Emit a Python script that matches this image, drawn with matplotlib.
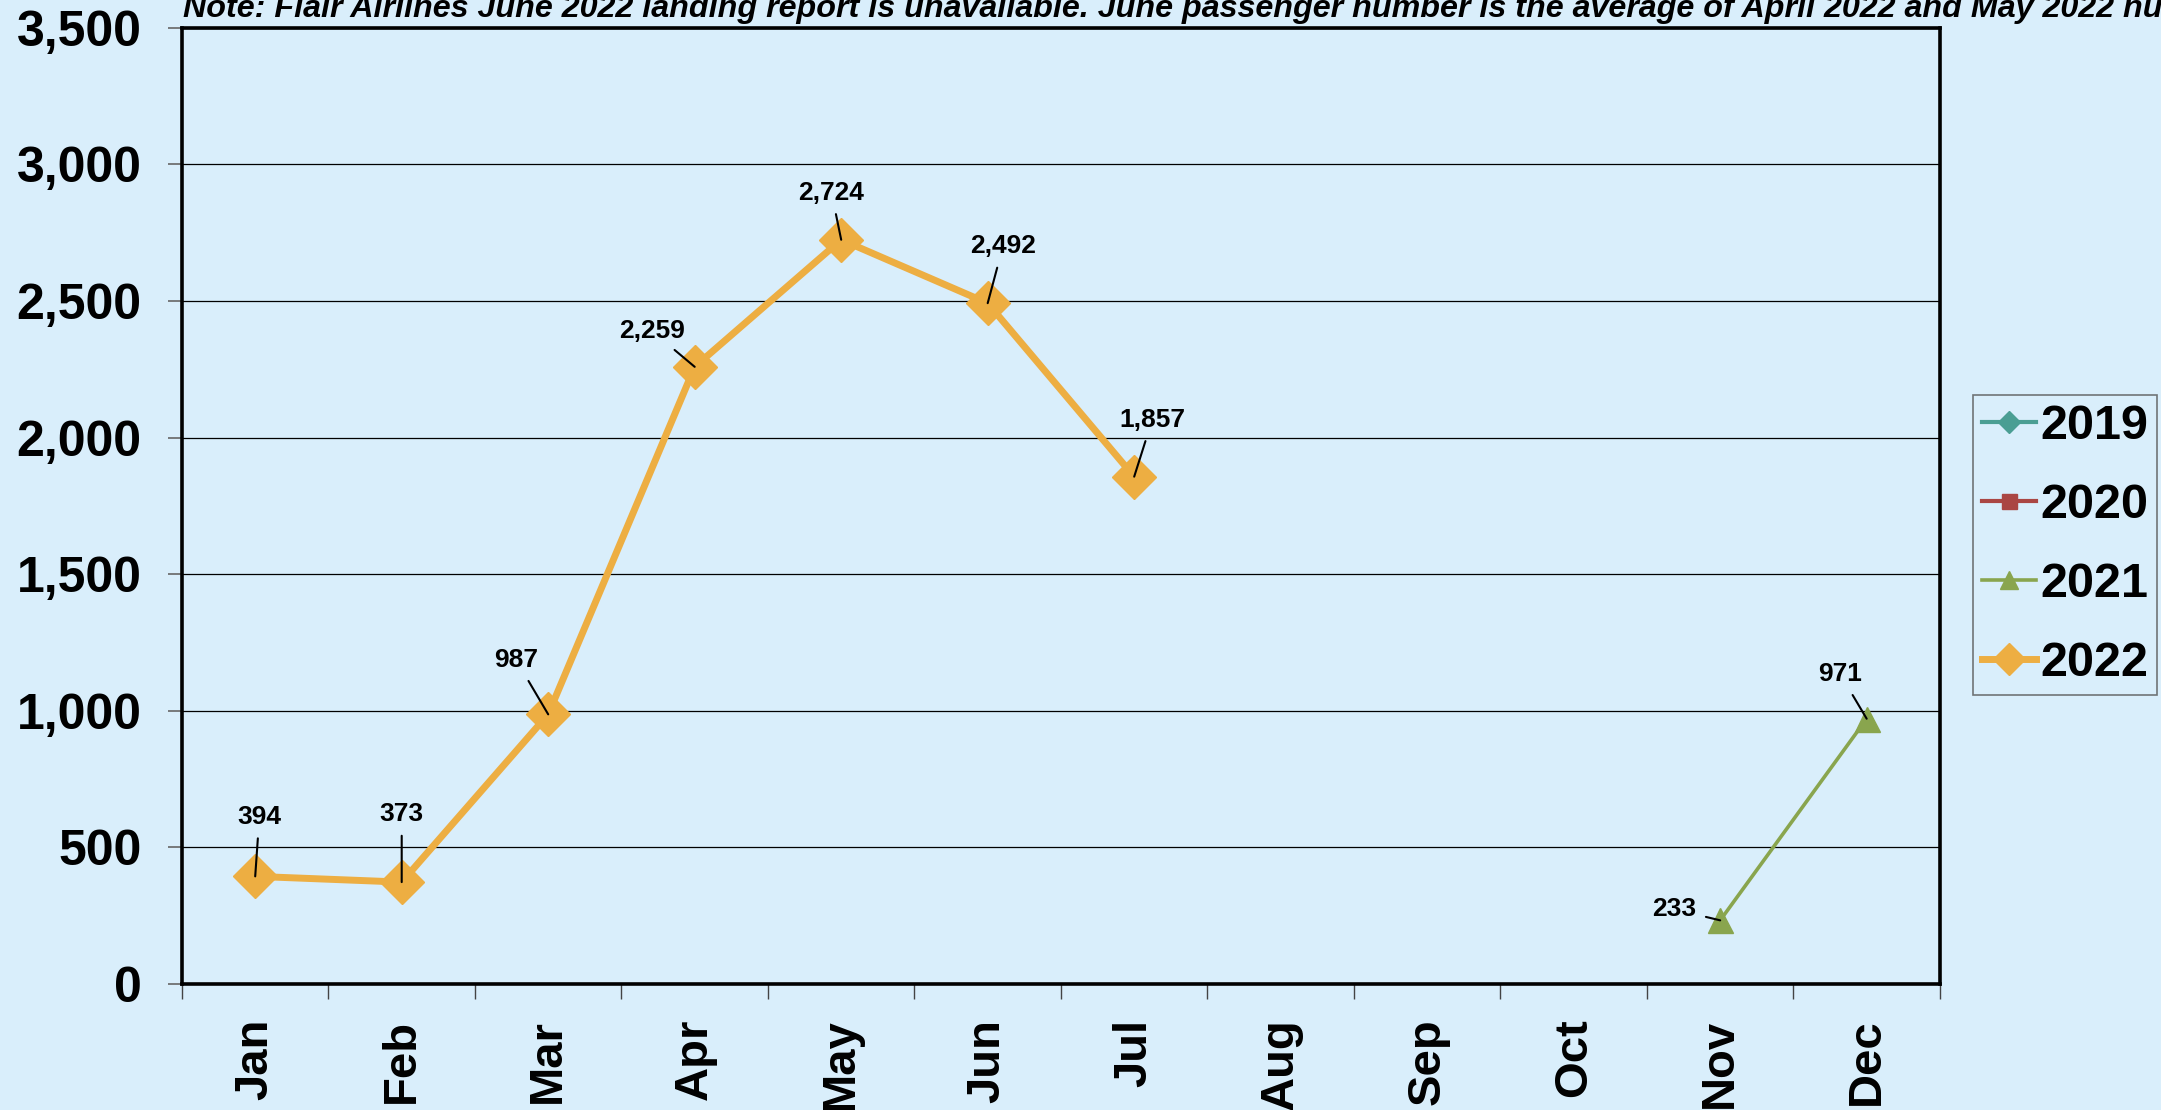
import numpy as np
import matplotlib.pyplot as plt
from matplotlib.ticker import FuncFormatter, FixedLocator

# data
months = ['Jan', 'Feb', 'Mar', 'Apr', 'May', 'Jun', 'Jul', 'Aug', 'Sep', 'Oct', 'Nov', 'Dec']
nan = np.nan
pax_2019 = [nan] * 12
pax_2020 = [nan] * 12
pax_2021 = [nan, nan, nan, nan, nan, nan, nan, nan, nan, nan, 233, 971]
pax_2022 = [394, 373, 987, 2259, 2724, 2492, 1857, nan, nan, nan, nan, nan]

note = ("Note: Flair Airlines June 2022 landing report is unavailable. June passenger number "
        "is the average of April 2022 and May 2022 numbers.")

# label offsets (points) for the data labels
off_2022 = [(3, 43), (0, 49), (-23, 39), (-31, 26), (-7, 34), (11, 41), (13, 41)]
off_2021 = {10: (-33, 8), 11: (-19, 32)}

bg = '#D9EEFB'
plt.rcParams['font.family'] = ['Liberation Sans', 'DejaVu Sans']

fig = plt.figure(figsize=(21.61, 11.10), dpi=100, facecolor=bg)
ax = fig.add_axes([0.0842, 0.1135, 0.8135, 0.8615], facecolor=bg)

x = np.arange(len(months))
l19, = ax.plot(x, pax_2019, color='#4A9E93', lw=3, marker='D', ms=16)
l20, = ax.plot(x, pax_2020, color='#AA4643', lw=3, marker='s', ms=15)
l21, = ax.plot(x, pax_2021, color='#89A54E', lw=2.6, marker='^', ms=18, zorder=4)
l22, = ax.plot(x, pax_2022, color='#EDAE42', lw=5, marker='D', ms=22, zorder=5)

lab_style = dict(textcoords='offset points', ha='center', va='center', fontsize=19,
                 fontweight='bold', zorder=6,
                 arrowprops=dict(arrowstyle='-', color='black', lw=1.5, shrinkA=5, shrinkB=0))
for i, v in enumerate(pax_2022):
    if np.isnan(v):
        continue
    ax.annotate(f'{v:,}', (i, v), xytext=off_2022[i], **lab_style)
for i, v in enumerate(pax_2021):
    if np.isnan(v):
        continue
    ax.annotate(f'{v:,}', (i, v), xytext=off_2021[i], **lab_style)

ax.set_xlim(-0.5, 11.5)
ax.set_ylim(0, 3500)
ax.set_yticks(np.arange(0, 3501, 500))
ax.yaxis.set_major_formatter(FuncFormatter(lambda v, p: f'{int(v):,}'))
ax.grid(axis='y', color='black', lw=0.9)
ax.set_axisbelow(True)

ax.set_xticks(x)
ax.set_xticklabels(months, rotation=90, fontsize=34, fontweight='bold')
ax.xaxis.set_minor_locator(FixedLocator(np.arange(-0.5, 12, 1)))
ax.tick_params(axis='x', which='major', length=0, pad=25)
ax.tick_params(axis='x', which='minor', length=11, width=1, color='#444444', direction='out')
ax.tick_params(axis='y', length=10, width=1.2, color='#666666', pad=19, labelsize=36)
for lab in ax.get_yticklabels():
    lab.set_fontweight('bold')

for s in ax.spines.values():
    s.set_linewidth(2.6)
    s.set_color('black')

# the note runs past the right edge, as in the original
fig.text(0.0847, 0.985, note, fontsize=23.2, fontweight='bold', fontstyle='italic',
         va='baseline', ha='left')

leg = fig.legend([l19, l20, l21, l22], ['2019', '2020', '2021', '2022'],
                 loc='upper left', bbox_to_anchor=(0.913, 0.644), borderaxespad=0,
                 prop={'size': 35, 'weight': 'bold'}, handlelength=1.12,
                 handletextpad=0.08, labelspacing=0.7, markerscale=0.72,
                 fancybox=False, frameon=True, borderpad=0.18)
leg.get_frame().set_facecolor(bg)
leg.get_frame().set_edgecolor('#555555')
leg.get_frame().set_linewidth(1.2)

fig.savefig('out.png', dpi=100, facecolor=bg)
